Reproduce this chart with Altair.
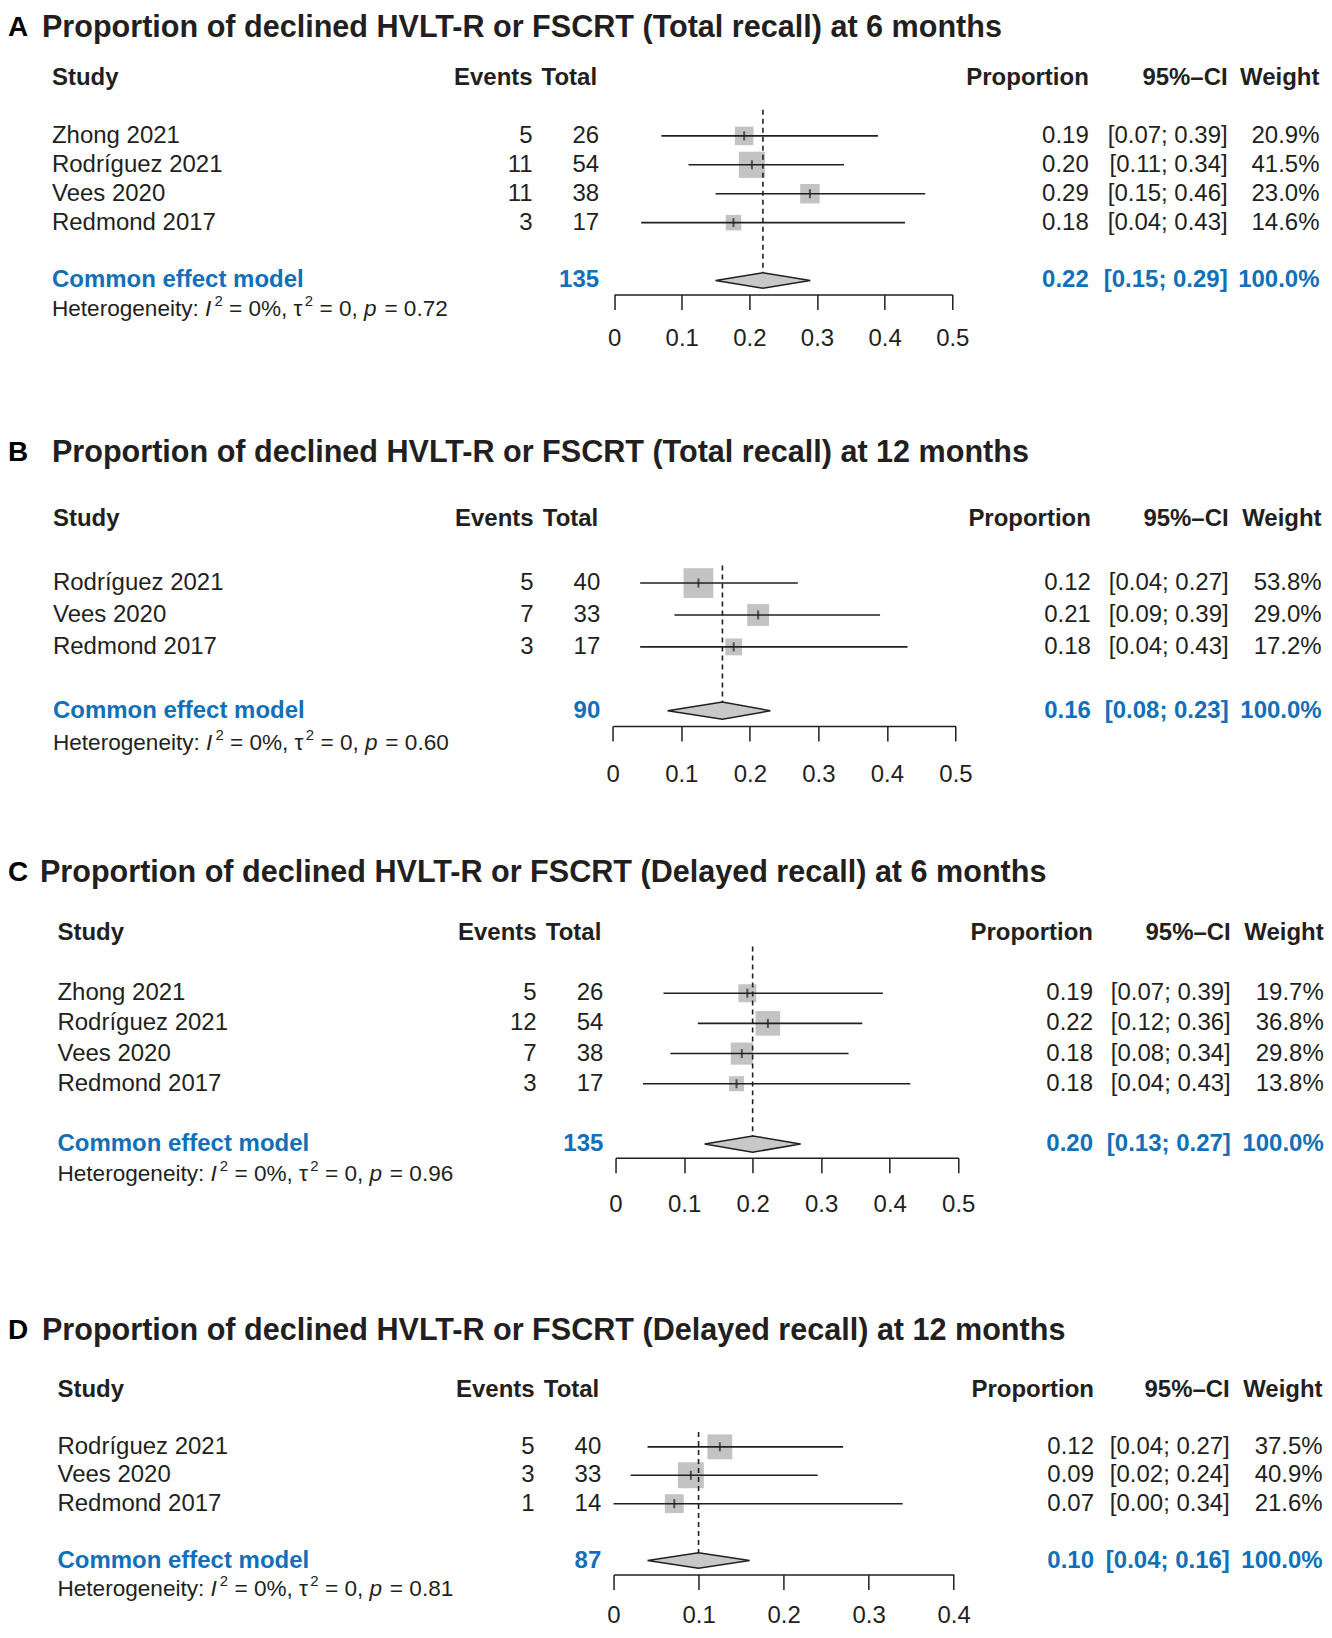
import altair as alt
import pandas as pd

FONT = "Liberation Sans"
DARK = "#231f20"
BLUE = "#1170b8"
SQUARE_GREY = "#c3c3c3"
DIAMOND_GREY = "#c8c8c8"
W = 1316

# ---------------- data ----------------
A_letter = "A"
A_title = "Proportion of declined HVLT-R or FSCRT (Total recall) at 6 months"
A_study = ["Zhong 2021", "Rodríguez 2021", "Vees 2020", "Redmond 2017"]
A_events = [5, 11, 11, 3]
A_total = [26, 54, 38, 17]
A_prop = [0.19, 0.20, 0.29, 0.18]
A_lower = [0.07, 0.11, 0.15, 0.04]
A_upper = [0.39, 0.34, 0.46, 0.43]
A_weight = [20.9, 41.5, 23.0, 14.6]
A_common = [0.22, 0.15, 0.29]
A_common_total = 135
A_het = ["0%", "0", "0.72"]
A_ticks = [0, 0.1, 0.2, 0.3, 0.4, 0.5]

B_letter = "B"
B_title = "Proportion of declined HVLT-R or FSCRT (Total recall) at 12 months"
B_study = ["Rodríguez 2021", "Vees 2020", "Redmond 2017"]
B_events = [5, 7, 3]
B_total = [40, 33, 17]
B_prop = [0.12, 0.21, 0.18]
B_lower = [0.04, 0.09, 0.04]
B_upper = [0.27, 0.39, 0.43]
B_weight = [53.8, 29.0, 17.2]
B_common = [0.16, 0.08, 0.23]
B_common_total = 90
B_het = ["0%", "0", "0.60"]
B_ticks = [0, 0.1, 0.2, 0.3, 0.4, 0.5]

C_letter = "C"
C_title = "Proportion of declined HVLT-R or FSCRT (Delayed recall) at 6 months"
C_study = ["Zhong 2021", "Rodríguez 2021", "Vees 2020", "Redmond 2017"]
C_events = [5, 12, 7, 3]
C_total = [26, 54, 38, 17]
C_prop = [0.19, 0.22, 0.18, 0.18]
C_lower = [0.07, 0.12, 0.08, 0.04]
C_upper = [0.39, 0.36, 0.34, 0.43]
C_weight = [19.7, 36.8, 29.8, 13.8]
C_common = [0.20, 0.13, 0.27]
C_common_total = 135
C_het = ["0%", "0", "0.96"]
C_ticks = [0, 0.1, 0.2, 0.3, 0.4, 0.5]

D_letter = "D"
D_title = "Proportion of declined HVLT-R or FSCRT (Delayed recall) at 12 months"
D_study = ["Rodríguez 2021", "Vees 2020", "Redmond 2017"]
D_events = [5, 3, 1]
D_total = [40, 33, 14]
D_prop = [0.12, 0.09, 0.07]
D_lower = [0.04, 0.02, 0.00]
D_upper = [0.27, 0.24, 0.34]
D_weight = [37.5, 40.9, 21.6]
D_common = [0.10, 0.04, 0.16]
D_common_total = 87
D_het = ["0%", "0", "0.81"]
D_ticks = [0, 0.1, 0.2, 0.3, 0.4]

# ---------------- layout (pixels, styling only) ----------------
LAY = {
    "A": dict(h=286, xr=[606.6, 945.0], yr=[69.5, 301.0], tx=34, ty=19, sx=44, ev=525, to=591.5,
              pr=1081.6, ci=1220.6, wt=1312.5, lp=17, sq=1650, dash=1.1),
    "B": dict(h=432, xr=[605.2, 948.2], yr=[225, 448.6], tx=44, ty=159, sx=45, ev=526, to=592.7,
              pr=1083.7, ci=1221.6, wt=1314.6, lp=21, sq=1250, dash=1.45),
    "C": dict(h=432, xr=[608.0, 951.0], yr=[207, 448.5], tx=32, ty=147, sx=49.5, ev=529, to=595.8,
              pr=1085.8, ci=1223.7, wt=1316.7, lp=20, sq=1750, dash=0.45),
    "D": dict(h=417, xr=[606.0, 946.4], yr=[232.5, 431.5], tx=34, ty=173, sx=49.5, ev=527, to=593.7,
              pr=1086.8, ci=1222.7, wt=1315.6, lp=14, sq=1480, dash=1.48),
}

TITLE_FS = 30.6
LETTER_FS = 28
HET_FS = 22.6
SUP_FS = 15

ARIAL = {' ': 278, '%': 889, ',': 278, '.': 278, ':': 278, '=': 584, 'H': 722, 'I': 278,
         'e': 556, 't': 278, 'r': 333, 'o': 556, 'g': 556, 'n': 556, 'i': 222, 'y': 500,
         'p': 556, 'τ': 430}


def tw(s, fs):
    return sum(ARIAL.get(c, 556) for c in s) * fs / 1000.0


def panel(letter, title, study, events, total, prop, lower, upper, weight,
          common, common_total, het, ticks, L):
    n = len(study)
    rows = list(range(2, n + 2))
    crow = n + 3
    hrow = n + 4
    xs = alt.Scale(domain=[ticks[0], ticks[-1]], range=L["xr"], nice=False, zero=False)
    ys = alt.Scale(domain=[0, hrow], range=L["yr"], nice=False, zero=False)
    ax = alt.Axis(values=ticks, format="~g", title=None, grid=False, tickSize=15,
                  tickWidth=1.5, tickColor=DARK, domainColor=DARK, domainWidth=1.5,
                  labelFont=FONT, labelFontSize=24, labelColor=DARK,
                  labelPadding=L["lp"], labelFlush=False, labelOverlap=False)

    def X(f):
        return alt.X(f, type="quantitative", scale=xs, axis=ax)

    def Y(f):
        return alt.Y(f, type="quantitative", scale=ys, axis=None)

    df = pd.DataFrame({
        "study": study,
        "ev": [str(e) for e in events],
        "to": [str(t) for t in total],
        "pos": [e / t for e, t in zip(events, total)],
        "pr": [f"{p:.2f}" for p in prop],
        "ci": [f"[{l:.2f}; {u:.2f}]" for l, u in zip(lower, upper)],
        "wt": [f"{w:.1f}%" for w in weight],
        "lower": lower, "upper": upper, "weight": weight, "row": rows,
    })

    layers = []
    layers.append(alt.Chart(df).mark_square(color=SQUARE_GREY, opacity=1, filled=True).encode(
        x=X("pos"), y=Y("row"),
        size=alt.Size("weight:Q", scale=alt.Scale(domain=[0, 100], range=[0, L["sq"]]), legend=None)))
    layers.append(alt.Chart(df).mark_rule(color=DARK, strokeWidth=1.6).encode(
        x=X("lower"), x2=alt.X2("upper"), y=Y("row")))
    layers.append(alt.Chart(df).mark_tick(orient="vertical", color=DARK, size=9, thickness=2).encode(
        x=X("pos"), y=Y("row")))

    est, lo, up = common
    hh = 0.27
    dash_df = pd.DataFrame({"x": [est], "y": [L["dash"]], "y2": [crow - hh]})
    layers.append(alt.Chart(dash_df).mark_rule(color=DARK, strokeWidth=1.6, strokeDash=[5, 4]).encode(
        x=X("x"), y=Y("y"), y2=alt.Y2("y2")))
    dia_df = pd.DataFrame({"x": [lo, est, up], "y": [crow, crow - hh, crow],
                           "y2": [crow, crow + hh, crow]})
    layers.append(alt.Chart(dia_df).mark_area(fill=DIAMOND_GREY, stroke=DARK, strokeWidth=1.5,
                                              opacity=1).encode(
        x=X("x"), y=Y("y"), y2=alt.Y2("y2")))

    def txt(frame, field, xpos, align, color=DARK, bold=False, italic=False, fs=24, yf="row", dy=0):
        return alt.Chart(frame).mark_text(
            align=align, baseline="middle", font=FONT, fontSize=fs, dy=dy,
            fontWeight="bold" if bold else "normal",
            fontStyle="italic" if italic else "normal", color=color).encode(
            x=alt.value(xpos), y=Y(yf), text=alt.Text(f"{field}:N"))

    # study rows
    layers.append(txt(df, "study", L["sx"], "left"))
    layers.append(txt(df, "ev", L["ev"], "right"))
    layers.append(txt(df, "to", L["to"], "right"))
    layers.append(txt(df, "pr", L["pr"], "right"))
    layers.append(txt(df, "ci", L["ci"], "right"))
    layers.append(txt(df, "wt", L["wt"], "right"))

    # header
    hd = pd.DataFrame({"row": [0], "a": ["Study"], "b": ["Events"], "c": ["Total"],
                       "d": ["Proportion"], "e": ["95%\u2013CI"], "f": ["Weight"]})
    layers.append(txt(hd, "a", L["sx"], "left", bold=True))
    layers.append(txt(hd, "b", L["ev"], "right", bold=True))
    layers.append(txt(hd, "c", L["to"] - 2, "right", bold=True))
    layers.append(txt(hd, "d", L["pr"], "right", bold=True))
    layers.append(txt(hd, "e", L["ci"], "right", bold=True))
    layers.append(txt(hd, "f", L["wt"], "right", bold=True))

    # common effect row
    cm = pd.DataFrame({"row": [crow], "a": ["Common effect model"], "c": [str(common_total)],
                       "d": [f"{est:.2f}"], "e": [f"[{lo:.2f}; {up:.2f}]"], "f": ["100.0%"]})
    layers.append(txt(cm, "a", L["sx"], "left", color=BLUE, bold=True))
    layers.append(txt(cm, "c", L["to"], "right", color=BLUE, bold=True))
    layers.append(txt(cm, "d", L["pr"], "right", color=BLUE, bold=True))
    layers.append(txt(cm, "e", L["ci"], "right", color=BLUE, bold=True))
    layers.append(txt(cm, "f", L["wt"], "right", color=BLUE, bold=True))

    # heterogeneity (segments: text, italic, superscript)
    parts = [("Heterogeneity: ", False, False), ("I", True, False), ("2", False, True),
             (f" = {het[0]}, \u03c4", False, False), ("2", False, True),
             (f" = {het[1]}, ", False, False), ("p", True, False),
             (f" = {het[2]}", False, False)]
    xpos = L["sx"]
    for s, it, sup in parts:
        fs = SUP_FS if sup else HET_FS
        lead = len(s) - len(s.lstrip(" "))
        xstart = xpos + tw(" " * lead, fs) + (1.5 if sup else 0)
        fr = pd.DataFrame({"row": [hrow], "t": [s.strip(" ")]})
        layers.append(txt(fr, "t", xstart, "left", italic=it, fs=fs, dy=(-8 if sup else 0)))
        xpos += tw(s, fs) + (1.5 if (it or sup) else 0)

    # title and letter
    tdf = pd.DataFrame({"t": [title], "l": [letter]})
    layers.append(alt.Chart(tdf).mark_text(align="left", baseline="middle", font=FONT,
                                           fontSize=TITLE_FS, fontWeight="bold", color=DARK).encode(
        x=alt.value(L["tx"]), y=alt.value(L["ty"]), text="t:N"))
    layers.append(alt.Chart(tdf).mark_text(align="left", baseline="middle", font=FONT,
                                           fontSize=LETTER_FS, fontWeight="bold",
                                           color="#000000").encode(
        x=alt.value(0), y=alt.value(L["ty"]), text="l:N"))

    return alt.layer(*layers).properties(width=W, height=L["h"])


pA = panel(A_letter, A_title, A_study, A_events, A_total, A_prop, A_lower, A_upper, A_weight,
           A_common, A_common_total, A_het, A_ticks, LAY["A"])
pB = panel(B_letter, B_title, B_study, B_events, B_total, B_prop, B_lower, B_upper, B_weight,
           B_common, B_common_total, B_het, B_ticks, LAY["B"])
pC = panel(C_letter, C_title, C_study, C_events, C_total, C_prop, C_lower, C_upper, C_weight,
           C_common, C_common_total, C_het, C_ticks, LAY["C"])
pD = panel(D_letter, D_title, D_study, D_events, D_total, D_prop, D_lower, D_upper, D_weight,
           D_common, D_common_total, D_het, D_ticks, LAY["D"])

chart = alt.vconcat(pA, pB, pC, pD, spacing=0, bounds="flush").properties(
    padding=0, background="white").configure_view(stroke=None)

chart.save("out.html", embed_options={"renderer": "svg", "actions": False})
